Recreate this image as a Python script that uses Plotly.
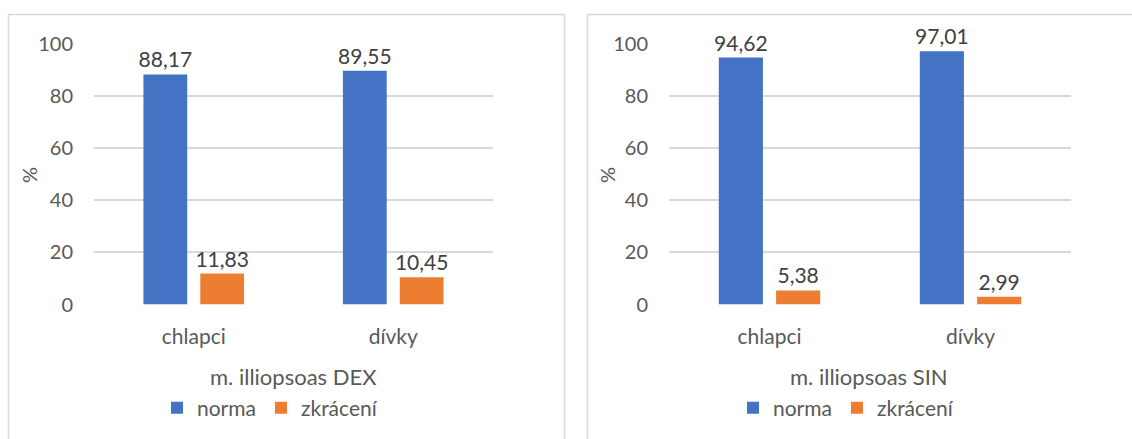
import plotly.graph_objects as go

# Shortening of m. iliopsoas (%) by sex, right and left side
categories = ["chlapci", "dívky"]
dex_norma = [88.17, 89.55]
dex_zkraceni = [11.83, 10.45]
sin_norma = [94.62, 97.01]
sin_zkraceni = [5.38, 2.99]
y_ticks = [0, 20, 40, 60, 80, 100]

W, H = 1132, 439
BLUE = "#4472C4"
ORANGE = "#ED7D31"
GREY_TEXT = "#595959"
GRID = "#D9D9D9"
FONT = "Lato"


def px_x(v):
    return v / W


def px_y(v):
    return 1 - v / H


fig = go.Figure()

panels = [
    ("x", "y", dex_norma, dex_zkraceni, "legend"),
    ("x2", "y2", sin_norma, sin_zkraceni, "legend2"),
]
for xa, ya, norma, zkr, leg in panels:
    for vals, name, color in [(norma, "norma", BLUE), (zkr, "zkrácení", ORANGE)]:
        fig.add_trace(go.Bar(
            x=categories, y=vals, name=name, marker_color=color,
            xaxis=xa, yaxis=ya, legend=leg,
            texttemplate="%{y:.2f}", textposition="outside",
            constraintext="none",
            textfont=dict(size=21, color="#404040", family=FONT),
            cliponaxis=False,
        ))

ydom = [px_y(304.5), px_y(43.5)]
xaxis_common = dict(
    showgrid=False, showline=False, zeroline=False, ticks="",
    tickfont=dict(size=21, color=GREY_TEXT, family=FONT),
    ticklabelstandoff=17, fixedrange=True, automargin=False,
)
yaxis_common = dict(
    range=[0, 100], tickvals=y_ticks, showgrid=True, gridcolor=GRID,
    gridwidth=1.5, zeroline=False, showline=False, ticks="",
    tickfont=dict(size=20, color=GREY_TEXT, family=FONT),
    ticklabelstandoff=20, fixedrange=True, automargin=False,
)

fig.update_layout(
    template="none",
    width=W, height=H,
    margin=dict(l=0, r=0, t=0, b=0, autoexpand=False),
    paper_bgcolor="white", plot_bgcolor="white",
    separators=", ",
    barmode="group", bargap=0.43, bargroupgap=0.23,
    font=dict(family=FONT, color=GREY_TEXT),
    xaxis=dict(domain=[px_x(94), px_x(493)], anchor="y", **xaxis_common),
    yaxis=dict(domain=ydom, anchor="x", **yaxis_common),
    xaxis2=dict(domain=[px_x(669), px_x(1071)], anchor="y2", **xaxis_common),
    yaxis2=dict(domain=ydom, anchor="x2", **yaxis_common),
    legend=dict(
        orientation="h", x=px_x(270), xanchor="center", y=px_y(408),
        yanchor="middle", font=dict(size=21, color=GREY_TEXT, family=FONT),
        itemwidth=30, bgcolor="rgba(0,0,0,0)",
    ),
    legend2=dict(
        orientation="h", x=px_x(846), xanchor="center", y=px_y(408),
        yanchor="middle", font=dict(size=21, color=GREY_TEXT, family=FONT),
        itemwidth=30, bgcolor="rgba(0,0,0,0)",
    ),
    showlegend=True,
)

# Axis titles
titles = [
    (px_x(293), px_y(376), "m. illiopsoas DEX", 0),
    (px_x(869), px_y(376), "m. illiopsoas SIN", 0),
    (px_x(29), px_y(175), "%", -90),
    (px_x(607), px_y(175), "%", -90),
]
for x, y, t, ang in titles:
    fig.add_annotation(
        x=x, y=y, xref="paper", yref="paper", text=t, showarrow=False,
        xanchor="center", yanchor="middle", textangle=ang,
        font=dict(size=22 if ang == 0 else 20, color=GREY_TEXT, family=FONT),
    )

# Chart frames (open at the bottom edge of the page)
for x0, x1 in [(8.5, 564.5), (587.5, 1140)]:
    fig.add_shape(
        type="rect", xref="paper", yref="paper",
        x0=px_x(x0), x1=px_x(x1), y0=-0.05, y1=px_y(14.5),
        line=dict(color=GRID, width=1.5), fillcolor="rgba(0,0,0,0)",
        layer="below",
    )

fig.write_html("out.html")
